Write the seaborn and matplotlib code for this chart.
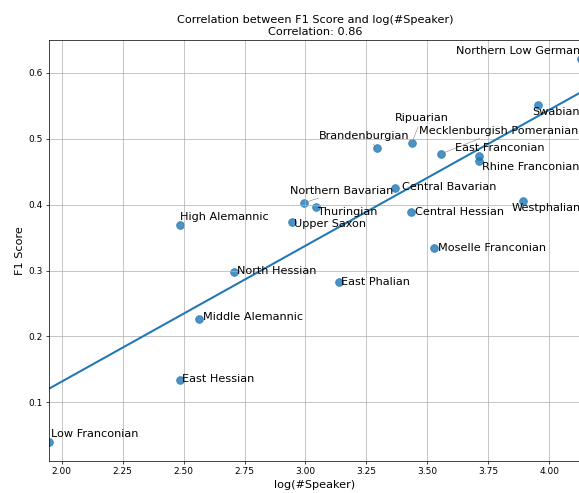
import numpy as np
import pandas as pd
import matplotlib
matplotlib.use("Agg")
import matplotlib.pyplot as plt
import seaborn as sns

# Dialect regions, log speaker counts and F1 scores
dialects = [
    "Low Franconian", "East Hessian", "Middle Alemannic", "North Hessian",
    "High Alemannic", "Upper Saxon", "Northern Bavarian", "Thuringian",
    "East Phalian", "Brandenburgian", "Central Bavarian", "Central Hessian",
    "Ripuarian", "Moselle Franconian", "Mecklenburgish Pomeranian",
    "East Franconian", "Rhine Franconian", "Westphalian", "Swabian",
    "Northern Low German",
]
log_speakers = [
    1.948, 2.485, 2.563, 2.707,
    2.487, 2.944, 2.994, 3.045,
    3.137, 3.295, 3.366, 3.433,
    3.435, 3.526, 3.555,
    3.712, 3.712, 3.893, 3.952,
    4.130,
]
f1_scores = [
    0.040, 0.134, 0.227, 0.298,
    0.369, 0.374, 0.403, 0.397,
    0.282, 0.486, 0.426, 0.389,
    0.493, 0.334, 0.477,
    0.474, 0.466, 0.405, 0.551,
    0.621,
]

df = pd.DataFrame({"dialect": dialects, "log_speakers": log_speakers, "f1": f1_scores})

# Label placement: offset of each label from its point, in pixels (x right, y up)
label_offsets = {
    "Low Franconian": (2, 8),
    "East Hessian": (2, 1),
    "Middle Alemannic": (4, 2),
    "North Hessian": (3, 1),
    "High Alemannic": (0, 8),
    "Upper Saxon": (2, -2),
    "Northern Bavarian": (-14, 12),
    "Thuringian": (1, -5),
    "East Phalian": (2, 0),
    "Brandenburgian": (-59, 12),
    "Central Bavarian": (7, 1),
    "Central Hessian": (4, 0),
    "Ripuarian": (-17, 25),
    "Moselle Franconian": (4, 0),
    "Mecklenburgish Pomeranian": (-22, 23),
    "East Franconian": (-24, 8),
    "Rhine Franconian": (3, -6),
    "Westphalian": (-12, -7),
    "Swabian": (-5, -7),
    "Northern Low German": (-125, 8),
}
with_leader = {"Northern Bavarian", "Brandenburgian", "Ripuarian", "Mecklenburgish Pomeranian"}

DPI = 65
fig = plt.figure(figsize=(579 / DPI, 493 / DPI), dpi=DPI)
ax = fig.add_axes([49 / 579, 32 / 493, 532 / 579, 421 / 493])

sns.regplot(data=df, x="log_speakers", y="f1", ax=ax, ci=None,
            scatter_kws={"s": 72}, line_kws={"color": "#1f77b4"}, color="#1f77b4")

ax.set_xlim(min(log_speakers), max(log_speakers))
ax.grid(True, color="#b0b0b0", linewidth=0.8)

for name, x, y in zip(dialects, log_speakers, f1_scores):
    dx, dy = label_offsets[name]
    props = dict(arrowstyle="-", color="grey", lw=0.6) if name in with_leader else None
    ax.annotate(name, xy=(x, y), xytext=(dx, dy), textcoords="offset pixels",
                ha="left", va="center", fontsize=12.5, arrowprops=props,
                annotation_clip=False)

r = np.corrcoef(log_speakers, f1_scores)[0, 1]
ax.set_title(f"Correlation between F1 Score and log(#Speaker)\nCorrelation: {r:.2f}", fontsize=12.5)
ax.set_xlabel("log(#Speaker)", fontsize=12.5)
ax.set_ylabel("F1 Score", fontsize=12.5)
ax.tick_params(labelsize=10)

fig.savefig("out.png", dpi=DPI)
